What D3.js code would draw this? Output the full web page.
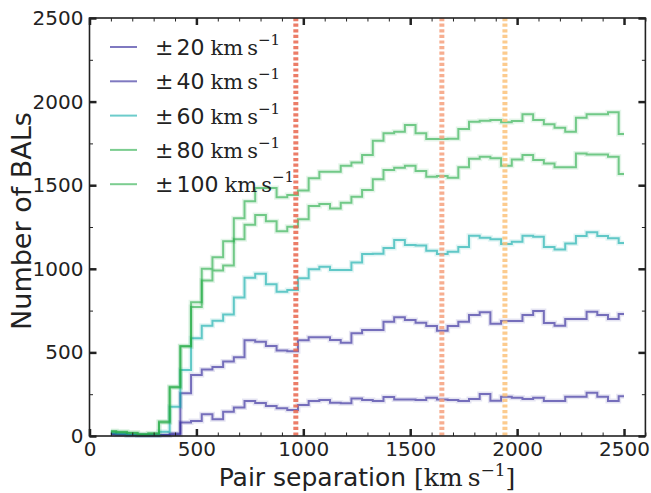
<!DOCTYPE html>
<html>
<head>
<meta charset="utf-8">
<script src="https://cdn.jsdelivr.net/npm/d3@7"></script>
<style>
body{margin:0;background:#fff;}
text{font-family:"DejaVu Sans";fill:#222;}
.serif{font-family:"DejaVu Serif","Liberation Serif";}
</style>
</head>
<body>
<svg id="chart" width="651" height="493"></svg>
<script>
// bin centres (km/s)
var pairSep = [100,150,200,250,300,350,400,450,500,550,600,650,700,750,800,850,900,950,
	1000,1050,1100,1150,1200,1250,1300,1350,1400,1450,1500,1550,1600,1650,1700,1750,1800,1850,1900,1950,
	2000,2050,2100,2150,2200,2250,2300,2350,2400,2450,2500];

var win20 = [10,8,5,3,3,5,8,80,90,130,100,145,170,210,198,180,166,155,
	185,209,215,199,196,225,215,209,233,219,219,215,229,219,215,209,221,251,211,235,229,221,229,209,209,235,235,259,235,209,237];
var win40 = [12,10,6,4,4,6,15,255,365,397,413,445,471,572,564,539,511,507,
	572,590,590,574,558,614,634,634,684,710,694,678,658,630,658,684,724,740,672,688,688,724,748,676,660,700,700,743,724,700,730];
var win60 = [20,15,8,5,5,25,175,395,584,660,690,726,828,946,971,908,863,873,
	943,997,1012,993,993,1037,1088,1090,1124,1172,1142,1140,1108,1088,1102,1130,1198,1186,1176,1148,1162,1198,1192,1130,1115,1152,1196,1218,1196,1183,1155];
var win80 = [25,22,18,10,14,80,290,535,772,930,990,1020,1177,1264,1322,1284,1224,1252,
	1296,1375,1387,1361,1395,1431,1471,1535,1591,1605,1617,1585,1551,1555,1545,1608,1658,1670,1661,1617,1654,1680,1650,1630,1607,1607,1690,1684,1684,1670,1567];
var win100 = [30,25,20,10,16,86,295,538,800,1000,1069,1165,1302,1404,1483,1483,1428,1441,
	1469,1541,1581,1581,1617,1636,1680,1766,1810,1820,1860,1810,1776,1776,1778,1836,1880,1886,1890,1876,1884,1924,1890,1864,1844,1820,1904,1924,1924,1936,1806];

var seriesNames = ['20','40','60','80','100'];
var seriesVals = [win20, win40, win60, win80, win100];
var seriesCols = ['#2a2096','#2a2096','#0aaaa8','#25ac46','#25ac46'];

var markerVel = [965, 1648, 1943];
var markerCols = ['#e9664d','#f6a07c','#fcc27a'];

var xTicks = [0,500,1000,1500,2000,2500];
var yTicks = [0,500,1000,1500,2000,2500];

var svg = d3.select('#chart');
var x = d3.scaleLinear().domain([0,2600]).range([89.5,645.4]);
var y = d3.scaleLinear().domain([0,2500]).range([436,18]);

// histograms
var line = d3.line()
	.x(function(d){ return x(d[0]); })
	.y(function(d){ return y(d[1]); })
	.curve(d3.curveStep);

for(var s=0; s<seriesVals.length; s++){
	var pts = pairSep.map(function(v,i){ return [v, seriesVals[s][i]]; });
	svg.append('path').attr('d', line(pts))
		.attr('fill','none').attr('stroke', seriesCols[s])
		.attr('stroke-width', 5).attr('stroke-opacity', 0.12);
	svg.append('path').attr('d', line(pts))
		.attr('fill','none').attr('stroke', seriesCols[s])
		.attr('stroke-width', 2).attr('stroke-opacity', 0.6);
}

// dotted markers
svg.selectAll('.vmark').data(markerVel).enter().append('line')
	.attr('class','vmark')
	.attr('x1', function(d){ return x(d); }).attr('x2', function(d){ return x(d); })
	.attr('y1', y(2500)).attr('y2', y(0))
	.attr('stroke', function(d,i){ return markerCols[i]; })
	.attr('stroke-opacity', 0.85)
	.attr('stroke-width', 5)
	.attr('stroke-dasharray', '3.2,2.4');

// axes, ticks inward on all sides
function styleAxis(g){
	g.select('.domain').remove();
	g.selectAll('.tick line').attr('stroke','#222');
	g.selectAll('text').style('font-family','DejaVu Sans').style('font-size','20px').attr('fill','#222');
}
var xMinor = d3.range(0,2601,100);
var yMinor = d3.range(0,2501,250);
var fmt = d3.format('d');

svg.append('g').attr('transform','translate(0,436)')
	.call(d3.axisBottom(x).tickValues(xMinor).tickSize(-3.5).tickFormat(''))
	.call(styleAxis);
svg.append('g').attr('transform','translate(0,436)')
	.call(d3.axisBottom(x).tickValues(xTicks).tickSize(-7).tickPadding(6).tickFormat(fmt))
	.call(styleAxis).selectAll('.tick line').attr('stroke-width',2.5);
svg.append('g').attr('transform','translate(0,18)')
	.call(d3.axisTop(x).tickValues(xMinor).tickSize(-3.5).tickFormat(''))
	.call(styleAxis);
svg.append('g').attr('transform','translate(0,18)')
	.call(d3.axisTop(x).tickValues(xTicks).tickSize(-7).tickFormat(''))
	.call(styleAxis).selectAll('.tick line').attr('stroke-width',2.5);

svg.append('g').attr('transform','translate(89.5,0)')
	.call(d3.axisLeft(y).tickValues(yMinor).tickSize(-3.5).tickFormat(''))
	.call(styleAxis);
svg.append('g').attr('transform','translate(89.5,0)')
	.call(d3.axisLeft(y).tickValues(yTicks).tickSize(-7).tickPadding(6).tickFormat(fmt))
	.call(styleAxis).selectAll('.tick line').attr('stroke-width',2.5);
svg.append('g').attr('transform','translate(645.4,0)')
	.call(d3.axisRight(y).tickValues(yMinor).tickSize(-3.5).tickFormat(''))
	.call(styleAxis);
svg.append('g').attr('transform','translate(645.4,0)')
	.call(d3.axisRight(y).tickValues(yTicks).tickSize(-7).tickFormat(''))
	.call(styleAxis).selectAll('.tick line').attr('stroke-width',2.5);

svg.append('rect').attr('x',89.5).attr('y',18)
	.attr('width',645.4-89.5).attr('height',436-18)
	.attr('fill','none').attr('stroke','#222').attr('stroke-width',1.6);

// axis titles
var xt = svg.append('text').attr('x',367).attr('y',486).attr('text-anchor','middle');
xt.append('tspan').style('font-size','25px').text('Pair separation ');
xt.append('tspan').attr('class','serif').style('font-size','25px').text('[km\u2009s');
xt.append('tspan').attr('class','serif').style('font-size','17px').attr('dy',-10).text('\u22121');
xt.append('tspan').attr('class','serif').style('font-size','25px').attr('dy',10).text(']');

svg.append('text').attr('transform','translate(31,221) rotate(-90)')
	.attr('text-anchor','middle').style('font-size','27px').text('Number of BALs');

// legend
var leg = svg.append('g');
seriesNames.forEach(function(name, i){
	var ly = 47 + i*34.3;
	leg.append('line').attr('x1',110).attr('x2',137).attr('y1',ly).attr('y2',ly)
		.attr('stroke', seriesCols[i]).attr('stroke-opacity',0.6).attr('stroke-width',2);
	var t = leg.append('text').attr('x',155).attr('y',ly+8);
	t.append('tspan').attr('class','serif').style('font-size','22px').text('\u00b1');
	t.append('tspan').style('font-size','22px').attr('dx',3).text(name);
	t.append('tspan').attr('class','serif').style('font-size','21px').attr('dx',6).text('km\u2009s');
	t.append('tspan').attr('class','serif').style('font-size','15px').attr('dy',-10).text('\u22121');
});
</script>
</body>
</html>
